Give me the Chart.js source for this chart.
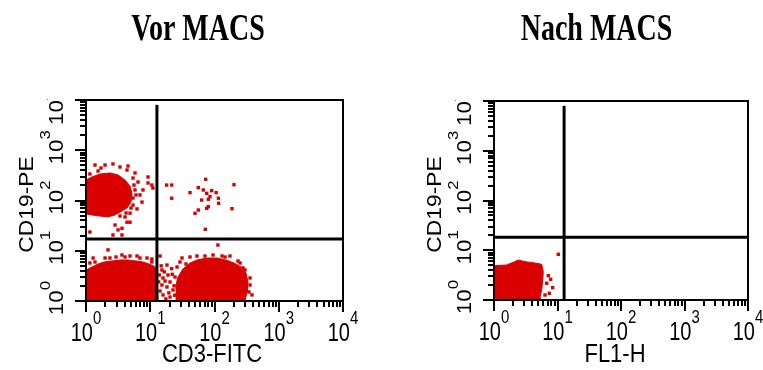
<!DOCTYPE html>
<html lang="de">
<head>
<meta charset="utf-8">
<title>Vor / Nach MACS</title>
<script src="https://cdn.jsdelivr.net/npm/chart.js@4/dist/chart.umd.min.js"></script>
<style>
  html, body { margin: 0; padding: 0; background: #fff; }
  #wrap { position: relative; width: 763px; height: 370px; overflow: hidden; }
  canvas { position: absolute; top: 0; }
  #vor { left: 0; }
  #nach { left: 381px; }
</style>
</head>
<body>
<div id="wrap">
  <canvas id="vor" width="381" height="370"></canvas>
  <canvas id="nach" width="382" height="370"></canvas>
</div>
<script>
// Achsen: 4 Dekaden, beschriftet als 10 hoch n
const dekaden = [1, 10, 100, 1000, 10000];
const exponenten = ['0', '1', '2', '3', '4'];
const teilstriche = [
  1, 2, 3, 4, 5, 6, 7, 8, 9,
  10, 20, 30, 40, 50, 60, 70, 80, 90,
  100, 200, 300, 400, 500, 600, 700, 800, 900,
  1000, 2000, 3000, 4000, 5000, 6000, 7000, 8000, 9000,
  10000
];

// Quadrantengrenzen [x, y]
const gateVor = [12.7, 17.1];
const gateNach = [12.7, 18.2];

// Vor MACS: dichte Populationen (Umriss) und Einzelereignisse, [CD3-FITC, CD19-PE]
const vorBZellen = [
  [1, 256], [1.24, 294], [1.65, 337], [2.36, 353], [3.15, 322], [4.05, 256],
  [4.84, 194], [5.2, 135], [5.02, 93], [4.35, 71], [3.63, 62], [2.83, 51.5],
  [2.2, 47], [1.65, 49], [1.24, 51.5], [1, 54], [1, 256]
];
const vorDoppeltNegativ = [
  [1, 1], [1, 4.14], [1.24, 4.75], [1.54, 5.45], [1.91, 5.97], [2.54, 6.25],
  [3.38, 6.54], [4.5, 6.54], [6.0, 6.25], [7.71, 5.97], [9.56, 5.45],
  [11.4, 4.97], [12.7, 4.14], [13.2, 1], [1, 1]
];
const vorTZellen = [
  [25.2, 1], [25.2, 2.08], [27, 3], [32.3, 4.33], [41.6, 5.71], [53.4, 6.54],
  [76.4, 7.17], [109, 7.17], [151, 6.54], [201, 5.71], [259, 4.75],
  [309, 3.61], [332, 2.39], [321, 1.51], [298, 1], [25.2, 1]
];
const vorEinzelpunkte = [
  // um die B-Zellen
  [1.98, 508], [2.63, 533], [3.38, 464], [4.35, 404], [5.79, 353], [9.23, 294],
  [6.45, 233], [7.71, 162], [9.23, 223], [11.0, 177], [7.44, 93], [5.39, 81],
  [4.84, 56], [4.84, 37], [3.63, 28], [3.63, 20.6], [2.63, 20.6], [1.15, 23.6],
  [1.38, 508], [5.79, 162], [5.39, 112], [4.05, 47], [2.83, 32.5], [1.71, 443],
  [10.6, 203], [4.5, 486], [6.92, 129], [6.22, 68], [4.35, 37], [3.15, 26],
  [5.58, 203], [6.0, 129], [5.02, 70.9], [4.2, 56.4], [3.38, 49.1], [5.39, 280],
  [1.54, 386], [1.15, 337],
  // doppelt positiv
  [18, 203], [21.6, 203], [21.6, 111], [41.6, 143], [56, 180], [73, 264],
  [66.9, 162], [75.6, 139], [85.1, 119], [80.1, 106], [90.4, 157], [106, 143],
  [115, 111], [116, 88], [63.2, 102], [75.6, 70], [56, 64.7], [49.7, 55.6],
  [201, 206], [187, 68.7], [71.9, 26.7], [80.1, 75.3],
  // oberhalb der doppelt negativen
  [2.2, 10.4], [1.29, 7.17], [1.98, 7.17], [4.84, 7.86], [8.9, 7.17],
  [1.15, 5.71], [6.22, 7.86], [3.63, 8.23], [2.93, 7.51], [10.6, 6.85],
  [1.38, 5.97], [2.36, 7.17], [4.05, 7.51], [6.92, 7.17], [10.6, 5.97],
  // Übergang zwischen den Wolken
  [15.2, 4.14], [15.8, 2.87], [18.9, 3.29], [20.3, 2.39], [24.3, 3],
  [15.2, 2.08], [18.2, 1.9], [22.6, 1.66], [15.8, 1.32], [20.3, 1.2],
  [26.1, 4.75], [18.2, 5.2], [14.2, 7.86], [17, 2.5], [14.2, 1.58],
  [13.8, 3.3], [16.5, 3.8], [21.5, 4.4], [23.5, 2.0], [19.5, 1.45],
  [13.5, 2.4], [17.5, 1.1], [24, 1.3], [22, 3.4], [14.8, 5.0],
  // um die T-Zellen
  [113, 13], [53.4, 7.86], [71.1, 7.86], [94.8, 8.23], [31.2, 7.17],
  [232, 6.25], [278, 4.54], [357, 2.08], [383, 1.32], [174, 7.86],
  [41.6, 7.51], [146, 7.51], [29, 5.97], [36, 5.45], [131, 7.86],
  [250, 5.71], [298, 4.14], [357, 2.87], [344, 1.51]
];

// Nach MACS: [FL1-H, CD19-PE]
const nachWolke = [
  [1, 1], [1, 4.89], [1.58, 5.05], [2.01, 5.73], [2.41, 6.37], [3.08, 5.89],
  [4.16, 5.62], [5.64, 5.22], [5.98, 3.71], [5.85, 2.52], [5.64, 1.59],
  [5.3, 1.15], [5.3, 1], [1, 1]
];
const nachEinzelpunkte = [
  [10.3, 8.29], [7.16, 3.08], [7.81, 2.61], [6.76, 2.17], [8.4, 1.77],
  [7.43, 1.36], [6.36, 1.26]
];

const ROT = 'rgb(218, 0, 0)';
const SANS = '"Liberation Sans", Arial, Helvetica, sans-serif';

function text(ctx, s, x, y, font, sLaenge, sQuer, gedreht) {
  ctx.save();
  ctx.translate(x, y);
  if (gedreht) ctx.rotate(-Math.PI / 2);
  ctx.scale(sLaenge, sQuer);
  ctx.font = font;
  ctx.textAlign = 'left';
  ctx.textBaseline = 'alphabetic';
  ctx.fillText(s, 0, 0);
  ctx.restore();
}

function breite(ctx, s, font) {
  ctx.font = font;
  return ctx.measureText(s).width;
}

// Rahmen, logarithmische Teilstriche und Beschriftung im CellQuest-Stil
const facsAchsen = {
  id: 'facsAchsen',
  afterDraw(chart, args, o) {
    const { ctx, chartArea: a } = chart;
    const sx = chart.scales.x, sy = chart.scales.y;
    ctx.save();
    ctx.fillStyle = '#000';
    ctx.strokeStyle = '#000';

    ctx.lineWidth = 2;
    ctx.strokeRect(a.left, a.top, a.right - a.left, a.bottom - a.top);

    ctx.beginPath();
    for (const t of teilstriche) {
      const lang = dekaden.includes(t) ? 11 : 6;
      const px = Math.round(sx.getPixelForValue(t));
      ctx.moveTo(px, a.bottom);
      ctx.lineTo(px, a.bottom + lang);
      const py = Math.round(sy.getPixelForValue(t));
      ctx.moveTo(a.left, py);
      ctx.lineTo(a.left - lang, py);
    }
    ctx.stroke();

    // x-Achse
    const xb = '20px ' + SANS, xe = '15px ' + SANS;
    dekaden.forEach((d, i) => {
      const wb = breite(ctx, '10', xb), we = breite(ctx, exponenten[i], xe);
      const links = sx.getPixelForValue(d) - (wb + we) / 2;
      text(ctx, '10', links, a.bottom + 40, xb, 1, 1.26, false);
      text(ctx, exponenten[i], links + wb, a.bottom + 23, xe, 1, 1.26, false);
    });

    // y-Achse, gedreht; oberste Beschriftung bleibt unter dem Rahmen
    ctx.save();
    ctx.beginPath();
    ctx.rect(0, a.top - 1, chart.width, chart.height);
    ctx.clip();
    const yb = '20px ' + SANS, ye = '15px ' + SANS, s = 1.12;
    dekaden.forEach((d, i) => {
      const wb = breite(ctx, '10', yb) * s, we = breite(ctx, exponenten[i], ye) * s;
      let unten = sy.getPixelForValue(d) - 3 + (wb + we) / 2;
      if (unten - wb < a.top) unten = a.top + wb;
      text(ctx, '10', a.left - 23, unten, yb, s, 1, true);
      text(ctx, exponenten[i], a.left - 36, unten - wb, ye, s, 1, true);
    });
    ctx.restore();

    // Achsentitel
    const xt = '22px ' + SANS;
    const wx = breite(ctx, o.xTitel, xt);
    text(ctx, o.xTitel, o.xTitelX - wx / 2, 362, xt, 1, 1.2, false);
    const yt = '20px ' + SANS;
    const wy = breite(ctx, o.yTitel, yt) * 1.14;
    text(ctx, o.yTitel, a.left - 53, (a.top + a.bottom) / 2 + 4 + wy / 2, yt, 1.14, 1, true);

    // Überschrift
    const tf = 'bold 28px "Liberation Serif", "Times New Roman", serif';
    const wt = breite(ctx, o.titel, tf);
    text(ctx, o.titel, o.titelX - wt / 2, 40, tf, 1, 1.32, false);

    ctx.restore();
  }
};

function datensaetze(gate, wolken, punkte) {
  const ds = [
    { data: [[gate[0], 1], [gate[0], 8000]], showLine: true, borderColor: '#000',
      borderWidth: 3, pointRadius: 0 },
    { data: [[1, gate[1]], [10000, gate[1]]], showLine: true, borderColor: '#000',
      borderWidth: 3, pointRadius: 0 },
    { data: punkte, backgroundColor: ROT, pointStyle: 'rect', pointRadius: 2.4,
      pointBorderWidth: 0, borderWidth: 0 }
  ];
  for (const w of wolken) {
    ds.push({ data: w, showLine: true, fill: 'shape', backgroundColor: ROT,
      borderColor: ROT, borderWidth: 1, pointRadius: 0 });
  }
  return ds;
}

function optionen(p) {
  return {
    responsive: false,
    animation: false,
    devicePixelRatio: 1,
    events: [],
    layout: { padding: p.rand },
    scales: {
      x: { type: 'logarithmic', min: 1, max: 10000, display: false },
      y: { type: 'logarithmic', min: 1, max: 10000, display: false }
    },
    plugins: { legend: { display: false }, tooltip: { enabled: false }, facsAchsen: p }
  };
}

new Chart(document.getElementById('vor'), {
  type: 'scatter',
  data: { datasets: datensaetze(gateVor, [vorBZellen, vorDoppeltNegativ, vorTZellen], vorEinzelpunkte) },
  options: optionen({
    rand: { left: 86, top: 100, right: 38, bottom: 69 },
    titel: 'Vor MACS', titelX: 198,
    xTitel: 'CD3-FITC', xTitelX: 212,
    yTitel: 'CD19-PE'
  }),
  plugins: [facsAchsen]
});

new Chart(document.getElementById('nach'), {
  type: 'scatter',
  data: { datasets: datensaetze(gateNach, [nachWolke], nachEinzelpunkte) },
  options: optionen({
    rand: { left: 113, top: 101, right: 15, bottom: 70 },
    titel: 'Nach MACS', titelX: 215.5,
    xTitel: 'FL1-H', xTitelX: 234,
    yTitel: 'CD19-PE'
  }),
  plugins: [facsAchsen]
});
</script>
</body>
</html>
